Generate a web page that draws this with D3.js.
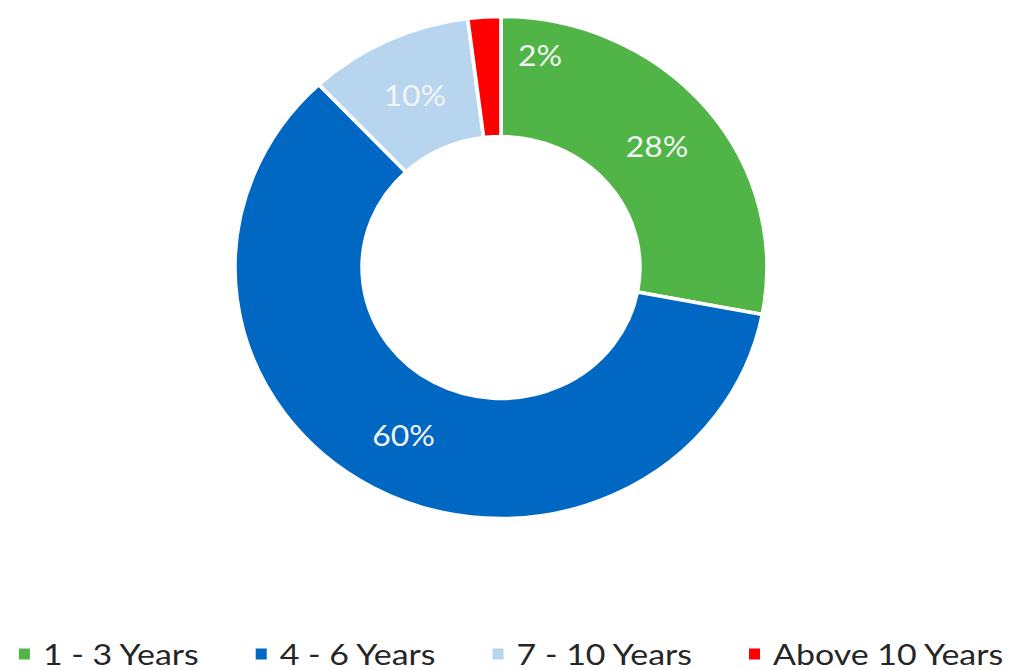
<!DOCTYPE html>
<html>
<head>
<meta charset="utf-8">
<script src="https://cdn.jsdelivr.net/npm/d3@7"></script>
<style>
  html, body { margin: 0; padding: 0; background: #fff; }
  svg { display: block; }
</style>
</head>
<body>
<svg id="chart" width="1009" height="670"></svg>
<script>
const categories = ["1 - 3 Years", "4 - 6 Years", "7 - 10 Years", "Above 10 Years"];
const values = [28, 60, 10, 2];
const labels = ["28%", "60%", "10%", "2%"];
const colors = ["#50B447", "#0067C2", "#B8D5EF", "#FF0000"];

const W = 1009, H = 670;
const cx = 501, cy = 267.5;
const outerR = 251, innerR = 131;
const xStretch = 1.06;
const textStretch = 1.17;

const svg = d3.select("#chart");

const data = categories.map((c, i) => ({ cat: c, value: values[i], label: labels[i], color: colors[i] }));

const pie = d3.pie().value(d => d.value).sort(null);
const arcs = pie(data);
const arc = d3.arc().innerRadius(innerR).outerRadius(outerR);

const g = svg.append("g").attr("transform", `translate(${cx},${cy}) scale(${xStretch},1)`);
g.selectAll("path").data(arcs).join("path")
  .attr("d", arc)
  .attr("fill", d => d.data.color)
  .attr("stroke", "#fff")
  .attr("stroke-width", 3.5)
  .attr("stroke-linejoin", "miter");

// labels
const midR = (innerR + outerR) / 2;
const labelG = svg.append("g");
arcs.forEach(a => {
  let ang = (a.startAngle + a.endAngle) / 2;
  let r = midR;
  if (a.data.value < 5) { // small slice label nudged (as in reference)
    ang = ang + (13.4 * Math.PI / 180) - 2 * Math.PI;
    r = 216;
  }
  const x = cx + xStretch * r * Math.sin(ang);
  const y = cy - r * Math.cos(ang);
  labelG.append("text")
    .attr("transform", `translate(${x},${y}) scale(1.1,1)`)
    .attr("text-anchor", "middle")
    .attr("dominant-baseline", "central")
    .attr("font-family", "Lato, 'Open Sans', sans-serif")
    .attr("font-size", 29)
    .attr("fill", "#F2F4F2")
    .text(a.data.label);
});

// legend
const legend = svg.append("g");
const sq = 11, sqGap = 13, itemGap = 57;
const legendMid = 654, baseline = 665;
const items = legend.selectAll("g").data(data).join("g");
items.append("rect")
  .attr("width", sq).attr("height", sq)
  .attr("y", legendMid - sq / 2)
  .attr("fill", d => d.color);
items.append("text")
  .attr("transform", `translate(${sq + sqGap},${baseline}) scale(${textStretch},1)`)
  .attr("font-family", "Lato, 'Open Sans', sans-serif")
  .attr("font-size", 29)
  .attr("fill", "#262626")
  .text(d => d.cat);

let widths = [];
items.each(function() {
  widths.push(sq + sqGap + textStretch * d3.select(this).select("text").node().getComputedTextLength());
});
const total = d3.sum(widths) + itemGap * (widths.length - 1);
let x0 = (16 + 1006) / 2 - total / 2;
items.attr("transform", (d, i) => {
  const t = `translate(${x0},0)`;
  x0 += widths[i] + itemGap;
  return t;
});
</script>
</body>
</html>
